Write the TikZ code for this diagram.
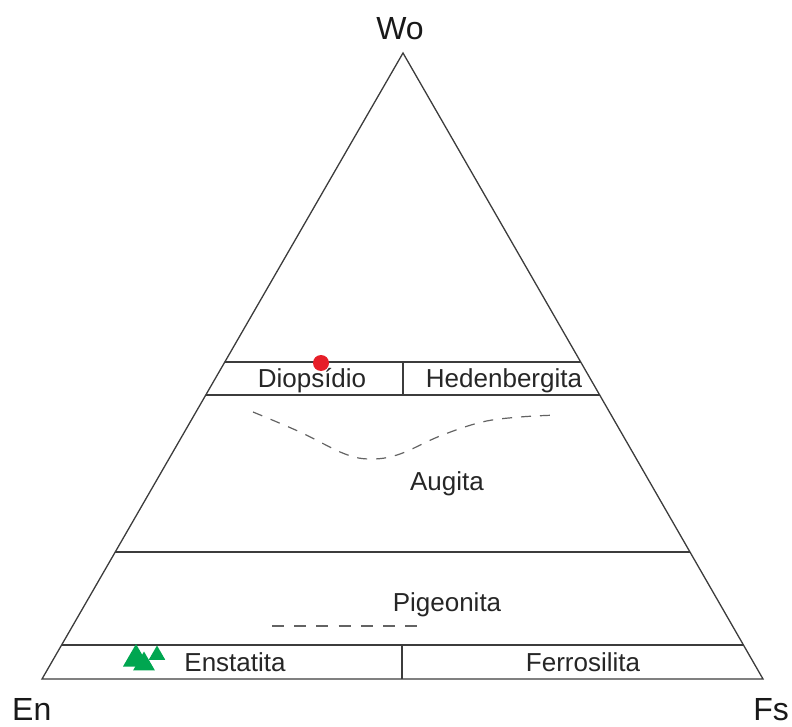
\documentclass[tikz,border=0pt]{standalone}
\usepackage{fontspec}
\setmainfont{Liberation Sans}
\usetikzlibrary{shapes.geometric}

\definecolor{linegray}{RGB}{60,60,60}
\definecolor{dotred}{RGB}{230,30,40}
\definecolor{markgreen}{RGB}{0,166,80}

\tikzset{
  field/.style={line width=1.3pt,draw=linegray},
  bound/.style={line width=1.2pt,draw=linegray!80,dash pattern=on 10pt off 9pt},
  fieldname/.style={font=\fontsize{26}{30}\selectfont,text=black!85,inner sep=0pt,anchor=base},
  member/.style={font=\fontsize{32}{36}\selectfont,text=black!90,inner sep=0pt,anchor=base},
  tri/.style={regular polygon,regular polygon sides=3,fill=markgreen,inner sep=0pt}
}

\begin{document}
\begin{tikzpicture}[x=1pt,y=-1pt]
        \useasboundingbox (0,0) rectangle (792,727);

        % corners of the diagram
        \coordinate (en) at (42,679);
        \coordinate (fs) at (763,679);
        \coordinate (wo) at (403,53);

        % field boundaries on the sides
        \coordinate (l5) at (61.6,645);   \coordinate (r5) at (743.4,645);
        \coordinate (l20) at (115.2,552); \coordinate (r20) at (690.0,552);
        \coordinate (l45) at (205.8,395); \coordinate (r45) at (599.7,395);
        \coordinate (l50) at (224.8,362); \coordinate (r50) at (580.7,362);
        \coordinate (m50) at (403,362);   \coordinate (m45) at (403,395);
        \coordinate (m5) at (402,645);    \coordinate (m0) at (402,679);

        \draw[field,line join=miter] (en) -- (fs) -- (wo) -- cycle;
        \draw[field] (l5) -- (r5);
        \draw[field] (l20) -- (r20);
        \draw[field] (l45) -- (r45);
        \draw[field] (l50) -- (r50);
        \draw[field] (m50) -- (m45);
        \draw[field] (m5) -- (m0);

        % dashed limits
        \draw[bound] plot[smooth,tension=0.6] coordinates
          {(253,412) (300,432) (345,454) (372,459) (400,454) (440,436) (482,422) (520,417) (558,415)};
        \coordinate (p1) at (272,626);
        \coordinate (p2) at (417,626);
        \draw[bound,dash pattern=on 12pt off 10.2pt] (p1) -- (p2);

        % names of the fields
        \node[fieldname] (diop) at (312,387) {Diopsídio};
        \node[fieldname] (hed) at (504,387) {Hedenbergita};
        \node[fieldname] (aug) at (447,490) {Augita};
        \node[fieldname] (pig) at (447,611) {Pigeonita};
        \node[fieldname] (ens) at (235,671) {Enstatita};
        \node[fieldname] (fer) at (583,671) {Ferrosilita};

        % end members
        \node[member] (wolab) at (400,40) {Wo};
        \node[member,anchor=base west] (enlab) at (12,720) {En};
        \node[member,anchor=base east] (fslab) at (789,720) {Fs};

        % analyses
        \node[circle,fill=dotred,minimum size=16pt,inner sep=0pt] (dot) at (321,363) {};
        \node[tri,minimum size=30pt] (t1) at (136,659) {};
        \node[tri,minimum size=25pt] (t2) at (144,664) {};
        \node[tri,minimum size=19pt] (t3) at (157,655) {};
      \end{tikzpicture}
\end{document}
